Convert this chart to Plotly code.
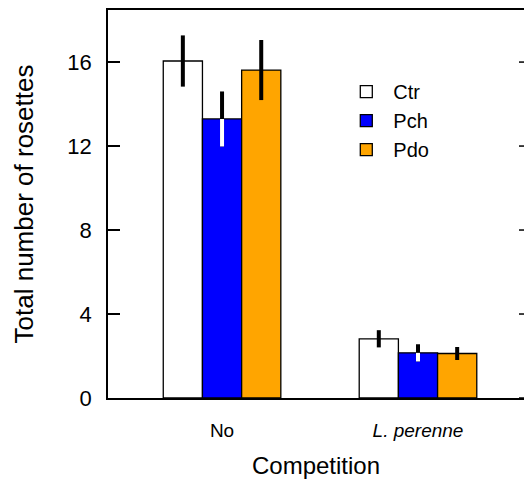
import plotly.graph_objects as go

categories = ["No", "<i>L. perenne</i>"]
series_names = ["Ctr", "Pch", "Pdo"]
ctr_values = [16.05, 2.82]
pch_values = [13.29, 2.15]
pdo_values = [15.62, 2.12]
ctr_err = [1.22, 0.41]
pch_err = [1.31, 0.41]
pdo_err = [1.43, 0.31]
colors = ["#FFFFFF", "#0000FF", "#FFA500"]
y_ticks = [0, 4, 8, 12, 16]

x_pos = list(range(len(categories)))
values = [ctr_values, pch_values, pdo_values]
errs = [ctr_err, pch_err, pdo_err]

FONT = "Liberation Sans, Arial, Helvetica, sans-serif"

fig = go.Figure()
for name, vals, err, col in zip(series_names, values, errs, colors):
    fig.add_trace(go.Bar(
        x=x_pos, y=vals, name=name, offsetgroup=name,
        marker=dict(color=col, line=dict(color="black", width=1.3)),
        error_y=dict(type="data", array=err, visible=True, color="black",
                     thickness=4, width=0),
    ))

# white lower half of the Pch error bars (drawn inside the blue bar)
fig.add_trace(go.Bar(
    x=x_pos, y=pch_values, name="Pch_low", offsetgroup="Pch", showlegend=False,
    marker=dict(color="rgba(0,0,0,0)", line=dict(width=0)),
    error_y=dict(type="data", symmetric=False, array=[0] * len(pch_err),
                 arrayminus=pch_err, visible=True, color="white",
                 thickness=4, width=0),
    hoverinfo="skip",
))

# right-hand inward ticks (axis box continues beyond the picture)
for t in y_ticks:
    fig.add_shape(type="line", xref="paper", yref="y",
                  x0=1 - 5 / 416, x1=1, y0=t, y1=t,
                  line=dict(color="black", width=1.5))

fig.update_layout(
    width=524, height=482,
    margin=dict(l=108, r=0, t=10, b=84, autoexpand=False),
    paper_bgcolor="white", plot_bgcolor="white",
    barmode="group", bargap=0.4, bargroupgap=0,
    font=dict(family=FONT, color="black", size=20),
    legend=dict(x=0.556, y=0.84, xanchor="left", yanchor="top",
                font=dict(size=20), bgcolor="rgba(0,0,0,0)",
                tracegroupgap=0, itemwidth=44),
    xaxis=dict(range=[-0.582, 1.541], tickvals=x_pos, ticktext=categories,
               showline=True, linecolor="black", linewidth=1.5, mirror=True,
               ticks="", showgrid=False, zeroline=False, automargin=False,
               tickfont=dict(size=19), ticklabelstandoff=14,
               title=dict(text="Competition", font=dict(size=24), standoff=18)),
    yaxis=dict(range=[0, 18.48], tickvals=y_ticks,
               showline=True, linecolor="black", linewidth=1.5, mirror=False,
               ticks="inside", ticklen=12, tickwidth=1.5, tickcolor="black",
               showgrid=False, zeroline=False, automargin=False,
               tickfont=dict(size=22), ticklabelstandoff=10,
               title=dict(text="Total number of rosettes", font=dict(size=26), standoff=26)),
)

fig.write_html("out.html", post_script="document.body.style.margin='0';",
               config={"displayModeBar": False})
